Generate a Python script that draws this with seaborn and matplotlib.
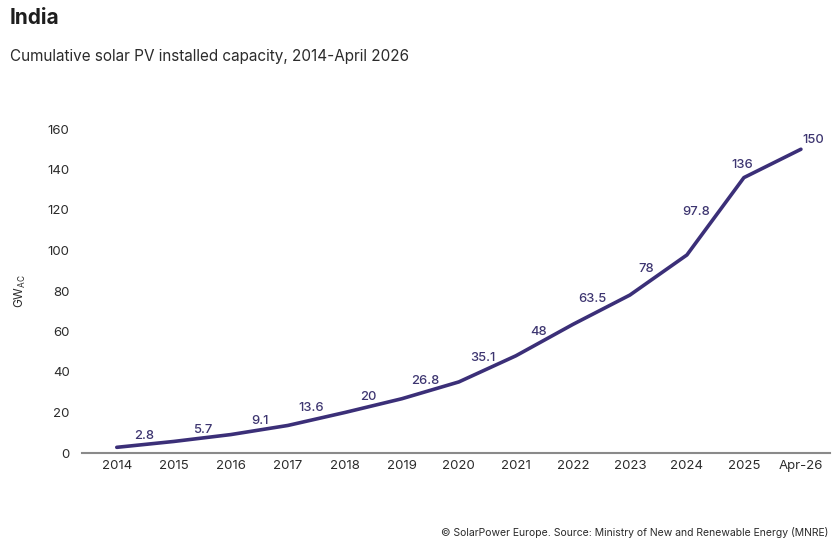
import matplotlib
matplotlib.use("Agg")
import matplotlib.pyplot as plt
import seaborn as sns
import pandas as pd

# data
years = ["2014", "2015", "2016", "2017", "2018", "2019", "2020",
         "2021", "2022", "2023", "2024", "2025", "Apr-26"]
capacity_gw = [2.8, 5.7, 9.1, 13.6, 20, 26.8, 35.1, 48, 63.5, 78, 97.8, 136, 150]
value_labels = ["2.8", "5.7", "9.1", "13.6", "20", "26.8", "35.1",
                "48", "63.5", "78", "97.8", "136", "150"]
y_ticks = [0, 20, 40, 60, 80, 100, 120, 140, 160]

# label offsets in points (styling only)
label_dx = [20, 21, 21, 17, 17, 17, 17, 16, 14, 11.5, 7, -1, 9]
label_dy = [8, 8.5, 10, 12.5, 11.5, 12.5, 17.5, 17, 18.5, 18.5, 31, 9, 6.5]

LINE = "#3b2f78"
TEXT = "#2b2b2b"
LABEL = "#3d3570"

sns.set_theme(style="white")
plt.rcParams["font.family"] = ["Inter", "DejaVu Sans"]

df = pd.DataFrame({"idx": range(len(years)), "year": years, "gw": capacity_gw})

fig = plt.figure(figsize=(8.4, 5.44), dpi=100)
ax = fig.add_axes([82 / 840, 1 - 453 / 544, (830 - 82) / 840, (453 - 129) / 544])

sns.lineplot(data=df, x="idx", y="gw", ax=ax, color=LINE, linewidth=2.6,
             solid_capstyle="round", solid_joinstyle="round")

for i, (v, lab) in enumerate(zip(capacity_gw, value_labels)):
    ax.annotate(lab, (i, v), xytext=(label_dx[i], label_dy[i]), textcoords="offset points",
                ha="center", va="center", fontsize=9.3, color=LABEL, fontweight="medium")

ax.set_xlim(-0.61, 12.51)
ax.set_ylim(0, 160)
ax.set_xticks(range(len(years)))
ax.set_xticklabels(years)
ax.set_yticks(y_ticks)
ax.tick_params(axis="both", labelsize=9.5, colors=TEXT, length=0)
ax.tick_params(axis="x", pad=5)
ax.tick_params(axis="y", pad=9)
for s in ["top", "right", "left"]:
    ax.spines[s].set_visible(False)
ax.spines["bottom"].set_color("#8a8a8a")
ax.spines["bottom"].set_linewidth(1.5)
ax.set_xlabel("")
ax.set_ylabel(r"GW$_{\mathregular{AC}}$", fontsize=8.5, color=TEXT, labelpad=14)

fig.text(10 / 840, 1 - 18 / 544, "India", fontsize=15, fontweight="bold",
         color="#1e1e1e", va="center", ha="left")
fig.text(10 / 840, 1 - 57 / 544, "Cumulative solar PV installed capacity, 2014-April 2026",
         fontsize=11, color=TEXT, va="center", ha="left")
fig.text(828 / 840, 1 - 533 / 544,
         "© SolarPower Europe. Source: Ministry of New and Renewable Energy (MNRE)",
         fontsize=7.5, color=TEXT, va="center", ha="right")

fig.savefig("out.png", dpi=100)
